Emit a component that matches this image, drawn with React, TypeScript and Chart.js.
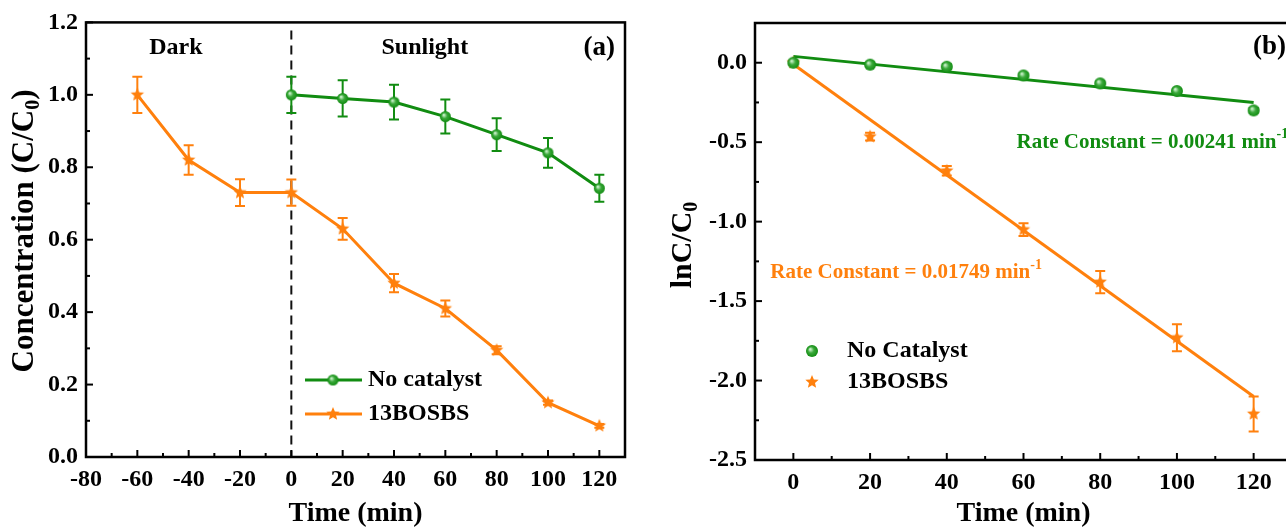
import React, { useEffect, useRef } from 'react';
import { Chart, registerables } from 'chart.js';
Chart.register(...registerables);

const FONT = "'Liberation Serif', 'Times New Roman', serif";
const GREEN = '#118c11';
const ORANGE = '#ff800d';

// ---------- Panel (a) data ----------
const timeA = [-60, -40, -20, 0, 20, 40, 60, 80, 100, 120];
const bosbsConc = [1.0, 0.82, 0.73, 0.73, 0.63, 0.48, 0.41, 0.295, 0.15, 0.086];
const bosbsConcErr = [0.05, 0.041, 0.037, 0.036, 0.03, 0.025, 0.022, 0.011, 0.006, 0.005];
const noCatTimeA = [0, 20, 40, 60, 80, 100, 120];
const noCatConc = [1.0, 0.99, 0.98, 0.94, 0.89, 0.84, 0.742];
const noCatConcErr = [0.05, 0.05, 0.048, 0.047, 0.045, 0.041, 0.037];
const xTicksA = [-80, -60, -40, -20, 0, 20, 40, 60, 80, 100, 120];
const yTicksA = [0, 0.2, 0.4, 0.6, 0.8, 1.0, 1.2];

// ---------- Panel (b) data ----------
const timeB = [0, 20, 40, 60, 80, 100, 120];
const noCatLn = [0, -0.012, -0.025, -0.08, -0.13, -0.178, -0.3];
const noCatLnErr = [0.012, 0.012, 0.015, 0.012, 0.012, 0.012, 0.015];
const bosbsLn = [0, -0.465, -0.68, -1.05, -1.38, -1.73, -2.21];
const bosbsLnErr = [0.01, 0.025, 0.03, 0.04, 0.07, 0.085, 0.11];
const fitTime = [0, 120];
const noCatFit = [0.04, -0.25];
const bosbsFit = [-0.01, -2.1];
const xTicksB = [0, 20, 40, 60, 80, 100, 120];
const yTicksB = [-2.5, -2.0, -1.5, -1.0, -0.5, 0.0];

type Seg = { t: string; s?: 'sub' | 'sup' };

function segFont(size: number, s?: string) {
  const sz = s ? Math.round(size * 0.66) : size;
  return `bold ${sz}px ${FONT}`;
}
function measureRich(ctx: CanvasRenderingContext2D, segs: Seg[], size: number) {
  let w = 0;
  for (const g of segs) {
    ctx.font = segFont(size, g.s);
    w += ctx.measureText(g.t).width;
  }
  return w;
}
function drawRich(
  ctx: CanvasRenderingContext2D, segs: Seg[], x: number, y: number, size: number,
  color: string, align: 'left' | 'center' | 'right' = 'left'
) {
  const w = measureRich(ctx, segs, size);
  let cx = align === 'left' ? x : align === 'center' ? x - w / 2 : x - w;
  ctx.save();
  ctx.fillStyle = color;
  ctx.textBaseline = 'middle';
  ctx.textAlign = 'left';
  for (const g of segs) {
    ctx.font = segFont(size, g.s);
    const dy = g.s === 'sub' ? size * 0.3 : g.s === 'sup' ? -size * 0.36 : 0;
    ctx.fillText(g.t, cx, y + dy);
    cx += ctx.measureText(g.t).width;
  }
  ctx.restore();
}

function makeStar(r: number, color: string) {
  const c = document.createElement('canvas');
  const s = Math.ceil(r * 2 + 2);
  c.width = s; c.height = s;
  const ctx = c.getContext('2d')!;
  ctx.translate(s / 2, s / 2);
  ctx.beginPath();
  for (let i = 0; i < 10; i++) {
    const rr = i % 2 === 0 ? r : r * 0.45;
    const a = -Math.PI / 2 + (i * Math.PI) / 5;
    const px = rr * Math.cos(a), py = rr * Math.sin(a);
    if (i === 0) ctx.moveTo(px, py); else ctx.lineTo(px, py);
  }
  ctx.closePath();
  ctx.fillStyle = color;
  ctx.fill();
  return c;
}
function makeSphere(r: number, color: string) {
  const c = document.createElement('canvas');
  const s = Math.ceil(r * 2 + 2);
  c.width = s; c.height = s;
  const ctx = c.getContext('2d')!;
  const g = ctx.createRadialGradient(s / 2 - r * 0.3, s / 2 - r * 0.3, r * 0.1, s / 2, s / 2, r);
  g.addColorStop(0, '#c8f0c8');
  g.addColorStop(0.45, '#3aa83a');
  g.addColorStop(1, color);
  ctx.beginPath();
  ctx.arc(s / 2, s / 2, r, 0, Math.PI * 2);
  ctx.fillStyle = g;
  ctx.fill();
  return c;
}

type DecoCfg = {
  errors: { ds: number; xs: number[]; ys: number[]; err: number[]; color: string; cap: number }[];
  dashedX?: number;
  texts: { x?: number; y: number; px?: (a: any) => number; segs: Seg[]; size: number; color: string; align: 'left' | 'center' | 'right' }[];
  legend: { x0: number; x1: number; mx: number; y: number; marker: HTMLCanvasElement; line?: string; label: string; tx: number }[];
  yTitle: { segs: Seg[]; x: number; y: number; size: number };
};

function makeDeco(id: string, cfg: DecoCfg) {
  return {
    id,
    beforeDatasetsDraw(chart: any) {
      const { ctx, chartArea: a, scales } = chart;
      if (cfg.dashedX !== undefined) {
        const px = scales.x.getPixelForValue(cfg.dashedX);
        ctx.save();
        ctx.strokeStyle = '#111';
        ctx.lineWidth = 2;
        ctx.setLineDash([9, 6]);
        ctx.beginPath();
        ctx.moveTo(px, a.top + 8);
        ctx.lineTo(px, a.bottom);
        ctx.stroke();
        ctx.restore();
      }
      for (const e of cfg.errors) {
        ctx.save();
        ctx.strokeStyle = e.color;
        ctx.lineWidth = 2;
        for (let i = 0; i < e.xs.length; i++) {
          const px = scales.x.getPixelForValue(e.xs[i]);
          const t = scales.y.getPixelForValue(e.ys[i] + e.err[i]);
          const b = scales.y.getPixelForValue(e.ys[i] - e.err[i]);
          ctx.beginPath();
          ctx.moveTo(px, t); ctx.lineTo(px, b);
          ctx.moveTo(px - e.cap, t); ctx.lineTo(px + e.cap, t);
          ctx.moveTo(px - e.cap, b); ctx.lineTo(px + e.cap, b);
          ctx.stroke();
        }
        ctx.restore();
      }
    },
    afterDraw(chart: any) {
      const { ctx, chartArea: a, scales } = chart;
      ctx.save();
      ctx.strokeStyle = '#000';
      ctx.lineWidth = 2.5;
      ctx.strokeRect(a.left, a.top, a.right - a.left, a.bottom - a.top);
      ctx.lineWidth = 2;
      const drawTicks = (sc: any, horiz: boolean) => {
        const vals = sc.ticks.map((t: any) => t.value);
        const step = vals[1] - vals[0];
        for (const v of vals) {
          const p = sc.getPixelForValue(v);
          ctx.beginPath();
          if (horiz) { ctx.moveTo(p, a.bottom); ctx.lineTo(p, a.bottom - 7); }
          else { ctx.moveTo(a.left, p); ctx.lineTo(a.left + 7, p); }
          ctx.stroke();
        }
        for (let v = vals[0] - step / 2; v < sc.max; v += step) {
          if (v <= sc.min + 1e-9) continue;
          const p = sc.getPixelForValue(v);
          ctx.beginPath();
          if (horiz) { ctx.moveTo(p, a.bottom); ctx.lineTo(p, a.bottom - 4); }
          else { ctx.moveTo(a.left, p); ctx.lineTo(a.left + 4, p); }
          ctx.stroke();
        }
      };
      drawTicks(scales.x, true);
      drawTicks(scales.y, false);
      ctx.restore();
      for (const t of cfg.texts) {
        const px = t.px ? t.px(a) : scales.x.getPixelForValue(t.x!);
        const py = scales.y.getPixelForValue(t.y);
        drawRich(ctx, t.segs, px, py, t.size, t.color, t.align);
      }
      for (const l of cfg.legend) {
        ctx.save();
        if (l.line) {
          ctx.strokeStyle = l.line;
          ctx.lineWidth = 3;
          ctx.beginPath();
          ctx.moveTo(l.x0, l.y); ctx.lineTo(l.x1, l.y);
          ctx.stroke();
        }
        ctx.drawImage(l.marker, l.mx - l.marker.width / 2, l.y - l.marker.height / 2);
        ctx.restore();
        drawRich(ctx, [{ t: l.label }], l.tx, l.y, 24, '#000', 'left');
      }
      ctx.save();
      ctx.translate(cfg.yTitle.x, cfg.yTitle.y);
      ctx.rotate(-Math.PI / 2);
      drawRich(ctx, cfg.yTitle.segs, 0, 0, cfg.yTitle.size, '#000', 'center');
      ctx.restore();
    },
  };
}

const tickFont = { family: FONT, size: 24, weight: 'bold' as const };
const titleFont = { family: FONT, size: 28, weight: 'bold' as const };

function baseScales(opts: {
  xmin: number; xmax: number; ymin: number; ymax: number;
  xt: number[]; yt: number[]; yw: number; xh: number; ydec: number;
}) {
  return {
    x: {
      type: 'linear' as const,
      min: opts.xmin, max: opts.xmax,
      grid: { display: false, drawTicks: false },
      border: { display: false },
      afterBuildTicks: (s: any) => { s.ticks = opts.xt.map((v) => ({ value: v })); },
      afterFit: (s: any) => { s.height = opts.xh; },
      ticks: { font: tickFont, color: '#000', padding: 8, maxRotation: 0, autoSkip: false, callback: (v: any) => String(v) },
      title: { display: true, text: 'Time (min)', font: titleFont, color: '#000', padding: { top: 0, bottom: 0 } },
    },
    y: {
      type: 'linear' as const,
      min: opts.ymin, max: opts.ymax,
      grid: { display: false, drawTicks: false },
      border: { display: false },
      afterBuildTicks: (s: any) => { s.ticks = opts.yt.map((v) => ({ value: v })); },
      afterFit: (s: any) => { s.width = opts.yw; },
      ticks: { font: tickFont, color: '#000', padding: 8, autoSkip: false, callback: (v: any) => Number(v).toFixed(opts.ydec) },
    },
  };
}

export default function App() {
  const refA = useRef<HTMLCanvasElement>(null);
  const refB = useRef<HTMLCanvasElement>(null);

  useEffect(() => {
    const starA = makeStar(7, ORANGE);
    const sphA = makeSphere(5.5, GREEN);
    const starB = makeStar(7, ORANGE);
    const sphB = makeSphere(6, GREEN);

    const decoA = makeDeco('decoA', {
      dashedX: 0,
      errors: [
        { ds: 0, xs: noCatTimeA, ys: noCatConc, err: noCatConcErr, color: GREEN, cap: 5 },
        { ds: 1, xs: timeA, ys: bosbsConc, err: bosbsConcErr, color: ORANGE, cap: 5 },
      ],
      texts: [
        { x: -45, y: 1.13, segs: [{ t: 'Dark' }], size: 24, color: '#000', align: 'center' },
        { x: 52, y: 1.13, segs: [{ t: 'Sunlight' }], size: 24, color: '#000', align: 'center' },
        { px: (a: any) => a.right - 10, y: 1.13, segs: [{ t: '(a)' }], size: 27, color: '#000', align: 'right' },
      ],
      legend: [
        { x0: 305, x1: 362, mx: 333, y: 380, marker: sphA, line: GREEN, label: 'No catalyst', tx: 368 },
        { x0: 305, x1: 362, mx: 333, y: 414, marker: starA, line: ORANGE, label: '13BOSBS', tx: 368 },
      ],
      yTitle: { segs: [{ t: 'Concentration (C/C' }, { t: '0', s: 'sub' }, { t: ')' }], x: 25, y: 231, size: 31 },
    });

    const chartA = new Chart(refA.current!, {
      type: 'line',
      data: {
        datasets: [
          {
            label: 'No catalyst',
            data: noCatTimeA.map((t, i) => ({ x: t, y: noCatConc[i] })),
            borderColor: GREEN, backgroundColor: GREEN, borderWidth: 3,
            pointStyle: sphA as any, pointRadius: 6, tension: 0,
          },
          {
            label: '13BOSBS',
            data: timeA.map((t, i) => ({ x: t, y: bosbsConc[i] })),
            borderColor: ORANGE, backgroundColor: ORANGE, borderWidth: 3,
            pointStyle: starA as any, pointRadius: 7, tension: 0,
          },
        ],
      },
      options: {
        responsive: false,
        animation: false,
        layout: { padding: { left: 0, right: 15, top: 22, bottom: 0 } },
        plugins: { legend: { display: false }, tooltip: { enabled: false } },
        scales: baseScales({ xmin: -80, xmax: 130, ymin: 0, ymax: 1.2, xt: xTicksA, yt: yTicksA, yw: 86, xh: 74, ydec: 1 }) as any,
      },
      plugins: [decoA],
    });

    const decoB = makeDeco('decoB', {
      errors: [
        { ds: 0, xs: timeB, ys: noCatLn, err: noCatLnErr, color: GREEN, cap: 5 },
        { ds: 1, xs: timeB, ys: bosbsLn, err: bosbsLnErr, color: ORANGE, cap: 5 },
      ],
      texts: [
        { x: 58.2, y: -0.5, segs: [{ t: 'Rate Constant = 0.00241 min' }, { t: '-1', s: 'sup' }], size: 21, color: GREEN, align: 'left' },
        { x: -6, y: -1.32, segs: [{ t: 'Rate Constant = 0.01749 min' }, { t: '-1', s: 'sup' }], size: 21, color: ORANGE, align: 'left' },
        { px: (a: any) => a.right - 6, y: 0.1, segs: [{ t: '(b)' }], size: 27, color: '#000', align: 'right' },
      ],
      legend: [
        { x0: 0, x1: 0, mx: 172, y: 351, marker: sphB, label: 'No Catalyst', tx: 207 },
        { x0: 0, x1: 0, mx: 172, y: 382, marker: starB, label: '13BOSBS', tx: 207 },
      ],
      yTitle: { segs: [{ t: 'lnC/C' }, { t: '0', s: 'sub' }], x: 43, y: 245, size: 30 },
    });

    const chartB = new Chart(refB.current!, {
      type: 'line',
      data: {
        datasets: [
          {
            label: 'No Catalyst',
            data: timeB.map((t, i) => ({ x: t, y: noCatLn[i] })),
            showLine: false, borderColor: GREEN, backgroundColor: GREEN,
            pointStyle: sphB as any, pointRadius: 6,
          },
          {
            label: '13BOSBS',
            data: timeB.map((t, i) => ({ x: t, y: bosbsLn[i] })),
            showLine: false, borderColor: ORANGE, backgroundColor: ORANGE,
            pointStyle: starB as any, pointRadius: 7,
          },
          {
            label: 'No Catalyst fit',
            data: fitTime.map((t, i) => ({ x: t, y: noCatFit[i] })),
            borderColor: GREEN, borderWidth: 3, pointRadius: 0, tension: 0,
          },
          {
            label: '13BOSBS fit',
            data: fitTime.map((t, i) => ({ x: t, y: bosbsFit[i] })),
            borderColor: ORANGE, borderWidth: 3, pointRadius: 0, tension: 0,
          },
        ],
      },
      options: {
        responsive: false,
        animation: false,
        layout: { padding: { left: 0, right: 6, top: 23, bottom: 0 } },
        plugins: { legend: { display: false }, tooltip: { enabled: false } },
        scales: baseScales({ xmin: -10, xmax: 130, ymin: -2.5, ymax: 0.25, xt: xTicksB, yt: yTicksB, yw: 115, xh: 71, ydec: 1 }) as any,
      },
      plugins: [decoB],
    });

    return () => { chartA.destroy(); chartB.destroy(); };
  }, []);

  return (
    <div style={{ position: 'absolute', left: 0, top: 0, width: 1286, height: 531, overflow: 'hidden', background: '#fff' }}>
      <canvas ref={refA} width={640} height={531} style={{ position: 'absolute', left: 0, top: 0, width: 640, height: 531 }} />
      <canvas ref={refB} width={660} height={531} style={{ position: 'absolute', left: 640, top: 0, width: 660, height: 531 }} />
    </div>
  );
}
